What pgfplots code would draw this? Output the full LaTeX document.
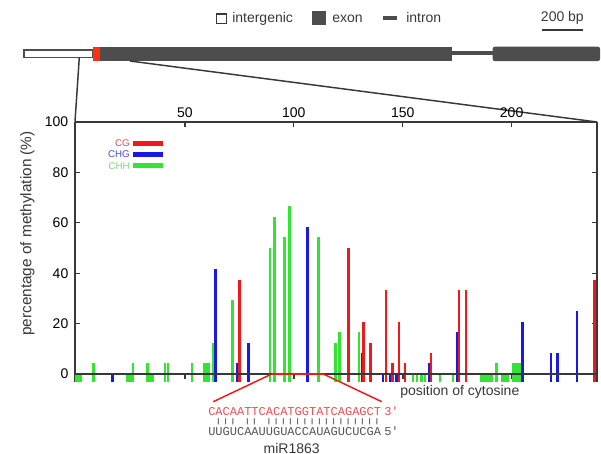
\documentclass[border=0pt]{standalone}
\usepackage{fontspec}
\setmainfont{Liberation Sans}
\setmonofont{Liberation Mono}
\usepackage{pgfplots}
\usepackage{pgfplotstable}
\pgfplotsset{compat=1.18}
\definecolor{axgray}{HTML}{383838}
\definecolor{exgray}{HTML}{4D4D4D}
\definecolor{barred}{HTML}{F01818}
\definecolor{barblue}{HTML}{1818E8}
\definecolor{bargreen}{HTML}{34E434}
\definecolor{cgtext}{HTML}{E84848}
\definecolor{chgtext}{HTML}{4848D8}
\definecolor{chhtext}{HTML}{70E070}
\definecolor{seqred}{HTML}{E85050}
\definecolor{seqgray}{HTML}{555555}
\definecolor{genered}{HTML}{FF3010}

\pgfplotstableread{
x v
0.0 0
0.6 0
2.0 0
7.9 4.2
23.6 0
24.5 0
25.4 0
26.1 4.2
32.9 4.2
33.6 0
34.4 0
35.2 0
40.8 4.2
42.3 4.2
53.2 4.2
58.9 4.2
60.0 4.2
61.0 4.2
63.0 12.5
71.9 29.2
89.0 50
91.0 62.5
95.8 54.2
97.9 66.7
111.2 54.2
119.0 12.5
120.9 16.7
129.9 16.7
154.8 0
156.5 0
158.7 0
160.2 0
167.1 0
173.1 0
186.1 0
187.3 0
188.4 0
189.6 0
190.7 0
193.1 4.2
195.7 0
196.9 0
198.2 0
200.7 4.2
201.8 4.2
203.0 4.2
203.8 4.2
}\chh

\pgfplotstableread{
x v
16.8 0
64.0 41.7
74.0 4.2
79.1 12.5
106.2 58.3
131.3 8.3
141.0 0
144.4 0
147.2 0
162.0 4.2
175.0 16.7
205.1 20.8
218.0 8.3
221.1 8.3
230.0 25
}\chg

\pgfplotstableread{
x v
75.0 37.5
125.0 50
132.0 20.8
135.2 12.5
142.3 33.3
145.3 4.2
148.2 20.8
151.1 4.2
163.0 8.3
175.9 33.3
179.0 33.3
238.0 37.5
}\cg

\begin{document}
\begin{tikzpicture}[x=0.75pt, y=-0.75pt, font=\fontsize{10.5}{12}\selectfont]
\useasboundingbox (0,0) rectangle (601,454);
\coordinate (axSW) at (75,381.6);

% gene model legend
\draw[axgray, fill=white, line width=0.8pt] (216.7,14) rectangle (226.7,23.3);
\node[anchor=base west, inner sep=0, text=axgray] at (232,22.5) {intergenic};
\fill[exgray] (311.7,11) rectangle (326,25);
\node[anchor=base west, inner sep=0, text=axgray] at (332,22.5) {exon};
\draw[exgray, line width=3pt] (382.7,18.3) -- (396.7,18.3);
\node[anchor=base west, inner sep=0, text=axgray] at (406,22.5) {intron};
\node[anchor=base west, inner sep=0, text=axgray] at (540.7,21.5) {200 bp};
\draw[axgray, line width=2.2pt] (541.7,30) -- (582.7,30);

% gene model
\draw[exgray, fill=white, line width=0.8pt] (24,50) rectangle (92.7,57.3);
\draw[exgray, line width=3pt] (451.7,52.8) -- (492.7,52.8);
\fill[exgray] (100,46.7) rectangle (451.7,61);
\fill[exgray, rounded corners=1.5pt] (492.7,46.7) rectangle (600,61);
\fill[genered] (93.3,46.7) rectangle (100,61);
\draw[axgray, line width=1.1pt] (79.3,57.3) -- (75,121.7);
\draw[axgray, line width=1.1pt] (130,61) -- (597,122);

\begin{axis}[
  at={(axSW)}, anchor=south west,
  width=391.5pt, height=194.7pt, scale only axis,
  xmin=-0.5, xmax=239.2, ymin=-3, ymax=100,
  axis x line=top, axis y line=box,
  x axis line style={-}, y axis line style={-},
  axis line style={draw=axgray, line width=1.1pt},
  tick align=inside,
  major tick length=3.75pt,
  every tick/.style={axgray, line width=0.8pt},
  xtick={50,100,150,200},
  ytick={0,20,40,60,80,100},
  tick label style={font=\fontsize{10.5}{12}\selectfont, text=black},
  yticklabel style={xshift=-1.5pt},
  /pgf/number format/assume math mode=true,
  clip=false,
]
\addplot[draw=bargreen, line width=1.9pt, quiver={u=0, v=\thisrow{v}+3}] table[x=x, y expr=-3] {\chh};
\addplot[draw=barblue, line width=1.9pt, quiver={u=0, v=\thisrow{v}+3}] table[x=x, y expr=-3] {\chg};
\addplot[draw=barred, line width=1.9pt, quiver={u=0, v=\thisrow{v}+3}] table[x=x, y expr=-3] {\cg};
\end{axis}

% zero line and bottom ticks
\draw[axgray, line width=1.4pt] (75,374) -- (597,374);
\foreach \px in {185,294,403,511.7} \draw[axgray, line width=0.8pt] (\px,374) -- (\px,378.5);

% in-plot legend
\node[anchor=east, inner sep=0, text=cgtext, font=\fontsize{7.3}{8}\selectfont] at (130,143.3) {CG};
\node[anchor=east, inner sep=0, text=chgtext, font=\fontsize{7.3}{8}\selectfont] at (130,154.3) {CHG};
\node[anchor=east, inner sep=0, text=chhtext, font=\fontsize{7.3}{8}\selectfont] at (130,165.7) {CHH};
\draw[barred, line width=3.75pt] (133.3,143.3) -- (162.7,143.3);
\draw[barblue, line width=3.75pt] (133.3,154.3) -- (162.7,154.3);
\draw[bargreen, line width=3.75pt] (133.3,165.7) -- (162.7,165.7);

% y label
\node[rotate=90, text=axgray, font=\fontsize{11.5}{13}\selectfont] at (27.5,233.5) {percentage of methylation (\%)};
\node[anchor=base west, inner sep=0, text=axgray] at (400,395.5) {position of cytosine};

% miRNA target
\draw[barred, line width=2.2pt] (271.7,374) -- (323.3,374);
\draw[barred, line width=1.1pt] (271.7,374) -- (213.3,401.7);
\draw[barred, line width=1.1pt] (323.3,374) -- (381.7,401.7);
\node[anchor=base west, inner sep=0, text=seqred, font=\ttfamily\fontsize{9}{10}\selectfont] at (208,415.5) {CACAATTCACATGGTATCAGAGCT};
\node[anchor=base west, inner sep=0, text=seqred, font=\ttfamily\fontsize{9}{10}\selectfont] at (384,415.5) {3′};
\node[anchor=center, inner sep=0, text=seqgray, font=\ttfamily\fontsize{9}{10}\selectfont] at (294.2,421.7) {\scalebox{1}[0.55]{\strut~|||~||~||||||||||||||||}};
\node[anchor=base west, inner sep=0, text=seqgray, font=\ttfamily\fontsize{9}{10}\selectfont] at (208,435.3) {UUGUCAAUUGUACCAUAGUCUCGA};
\node[anchor=base west, inner sep=0, text=seqgray, font=\ttfamily\fontsize{9}{10}\selectfont] at (384,435.3) {5′};
\node[anchor=base, inner sep=0, text=axgray] at (291.7,453) {miR1863};
\end{tikzpicture}
\end{document}
